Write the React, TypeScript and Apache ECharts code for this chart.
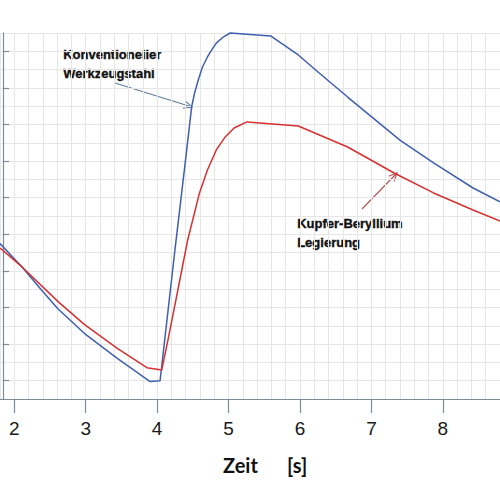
import React, { useEffect, useRef } from "react";
import * as echarts from "echarts";

// ---- data ----
const xTickValues = [2, 3, 4, 5, 6, 7, 8];
const yTickValues = [1, 3, 5, 7, 9, 11, 13, 15, 17, 19];

const blueName = "Konventioneller Werkzeugstahl";
const blueX = [1.8, 2.105, 2.381, 2.613, 2.98, 3.442, 3.902, 4.041, 4.249, 4.414, 4.483, 4.524, 4.58, 4.635, 4.704, 4.773, 4.828, 4.925, 5.022, 5.589, 5.976, 6.252, 6.667, 7.399, 7.87, 8.423, 8.8];
const blueY = [8.49, 7.23, 5.96, 4.92, 3.59, 2.22, 0.95, 1.0, 8.14, 13.61, 15.96, 16.72, 17.49, 18.14, 18.69, 19.13, 19.45, 19.78, 20.0, 19.84, 18.8, 17.87, 16.5, 14.15, 12.9, 11.53, 10.77];

const redName = "Kupfer-Beryllium Legierung";
const redX = [1.8, 2.105, 2.613, 2.98, 3.442, 3.857, 4.064, 4.151, 4.249, 4.345, 4.428, 4.593, 4.704, 4.828, 4.953, 5.077, 5.257, 5.976, 6.667, 7.317, 7.87, 8.423, 8.8];
const redY = [8.25, 7.23, 5.32, 4.08, 2.77, 1.71, 1.58, 3.22, 5.14, 7.05, 8.69, 11.26, 12.51, 13.61, 14.32, 14.81, 15.14, 14.92, 13.77, 12.35, 11.26, 10.33, 9.73];

const blueLabel = "Konventioneller\nWerkzeugstahl";
const redLabel = "Kupfer-Beryllium\nLegierung";
const xTitle = "Zeit      [s]";

const X_MIN = 1.8;
const X_MAX = 8.8;
const Y_MIN = 0;
const Y_MAX = 20;

function arrow(x1: number, y1: number, x2: number, y2: number, color: string) {
  const dx = x2 - x1;
  const dy = y2 - y1;
  const len = Math.sqrt(dx * dx + dy * dy);
  const ux = dx / len;
  const uy = dy / len;
  const h = 9;
  const a = (25 * Math.PI) / 180;
  const p1 = [
    x2 - h * (ux * Math.cos(a) - uy * Math.sin(a)),
    y2 - h * (uy * Math.cos(a) + ux * Math.sin(a)),
  ];
  const p2 = [
    x2 - h * (ux * Math.cos(a) + uy * Math.sin(a)),
    y2 - h * (uy * Math.cos(a) - ux * Math.sin(a)),
  ];
  return [
    {
      type: "line",
      shape: { x1, y1, x2, y2 },
      style: { stroke: color, lineWidth: 1.1 },
      silent: true,
    },
    {
      type: "polyline",
      shape: { points: [p1, [x2, y2], p2] },
      style: { stroke: color, lineWidth: 1.1, fill: "none" },
      silent: true,
    },
  ];
}

export default function App() {
  const ref = useRef<HTMLDivElement>(null);

  useEffect(() => {
    if (!ref.current) return;
    const chart = echarts.init(ref.current, undefined, { renderer: "svg" });
    const axisColor = "#7d8a97";
    const gridColor = "#e6e6e6";
    const titleFont = "Lato, 'Noto Sans', sans-serif";
    const noteFont = "'Liberation Sans', Arial, sans-serif";

    const option: any = {
      animation: false,
      backgroundColor: "#ffffff",
      grid: { left: -2.1, right: -4.3, top: 33, bottom: 101, containLabel: false },
      xAxis: [
        {
          type: "value",
          min: X_MIN,
          max: X_MAX,
          position: "bottom",
          axisLine: { show: true, onZero: false, lineStyle: { color: axisColor, width: 1.2 } },
          axisTick: { show: true, customValues: xTickValues, length: 14, lineStyle: { color: axisColor, width: 1.2 } },
          axisLabel: {
            show: true,
            customValues: xTickValues,
            fontSize: 19,
            color: "#1a1a1a",
            fontFamily: "'Liberation Sans', Arial, sans-serif",
            margin: 20,
          },
          splitLine: { show: false },
        },
        {
          type: "value",
          min: X_MIN,
          max: X_MAX,
          interval: 0.2,
          position: "top",
          axisLine: { show: false },
          axisTick: { show: false },
          axisLabel: { show: false },
          splitLine: { show: true, lineStyle: { color: gridColor, width: 1 } },
        },
      ],
      yAxis: [
        {
          type: "value",
          min: Y_MIN,
          max: Y_MAX,
          position: "left",
          offset: -3.1,
          axisLine: { show: true, lineStyle: { color: axisColor, width: 1.2 } },
          axisTick: { show: true, inside: true, customValues: yTickValues, length: 6, lineStyle: { color: axisColor, width: 1.2 } },
          axisLabel: { show: false },
          splitLine: { show: false },
        },
        {
          type: "value",
          min: Y_MIN,
          max: Y_MAX,
          interval: 1,
          position: "right",
          axisLine: { show: false },
          axisTick: { show: false },
          axisLabel: { show: false },
          splitLine: { show: true, lineStyle: { color: gridColor, width: 1 } },
        },
      ],
      series: [
        {
          name: blueName,
          type: "line",
          xAxisIndex: 0,
          yAxisIndex: 0,
          data: blueX.map((x, i) => [x, blueY[i]]),
          showSymbol: false,
          symbol: "none",
          clip: false,
          lineStyle: { color: "#3f5fae", width: 1.5 },
          z: 3,
        },
        {
          name: redName,
          type: "line",
          xAxisIndex: 0,
          yAxisIndex: 0,
          data: redX.map((x, i) => [x, redY[i]]),
          showSymbol: false,
          symbol: "none",
          clip: false,
          lineStyle: { color: "#d63030", width: 1.5 },
          z: 3,
        },
      ],
      graphic: [
        {
          type: "text",
          left: 63,
          top: 44.5,
          silent: true,
          style: {
            text: blueLabel,
            fontSize: 13,
            fontWeight: "bold",
            fontFamily: noteFont,
            lineHeight: 19,
            fill: "#111111",
            stroke: "#111111",
            lineWidth: 0.35,
          },
        },
        {
          type: "text",
          left: 297,
          top: 213.5,
          silent: true,
          style: {
            text: redLabel,
            fontSize: 13,
            fontWeight: "bold",
            fontFamily: noteFont,
            lineHeight: 19,
            fill: "#111111",
            stroke: "#111111",
            lineWidth: 0.35,
          },
        },
        {
          type: "text",
          left: 223,
          top: 455,
          silent: true,
          style: {
            text: xTitle,
            fontSize: 20,
            fontWeight: "bold",
            fontFamily: titleFont,
            fill: "#111111",
          },
        },
        ...arrow(115, 83, 192, 107, "#5f7d9c"),
        ...arrow(362, 209, 397, 173, "#b5524f"),
      ],
    };

    chart.setOption(option);
    return () => chart.dispose();
  }, []);

  return (
    <div
      ref={ref}
      style={{ position: "fixed", left: 0, top: 0, width: 500, height: 500, background: "#fff" }}
    />
  );
}
